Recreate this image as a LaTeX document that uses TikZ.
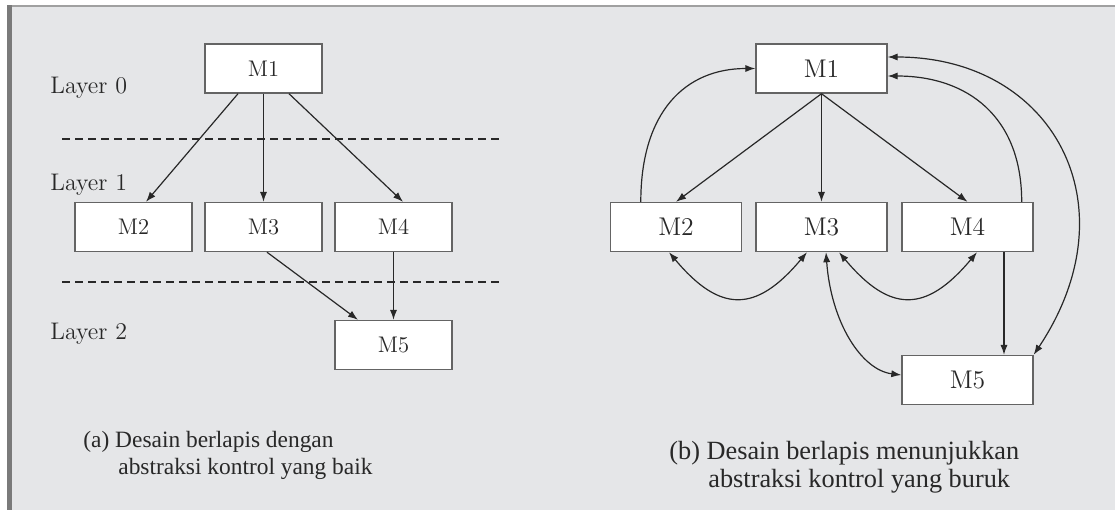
\documentclass[tikz,border=0pt]{standalone}
\usepackage{fontspec}
\newfontfamily\capfont{Liberation Serif}
\usepackage{tikz}
\usetikzlibrary{
	arrows.meta,
	positioning
}
\usepackage{xcolor}
\definecolor{panelbg}{RGB}{229,230,232}
\definecolor{framegray}{RGB}{122,122,122}
\definecolor{framelight}{RGB}{160,160,160}
\definecolor{boxline}{RGB}{100,100,100}
\definecolor{darkline}{RGB}{40,40,40}

\begin{document}
\begin{tikzpicture}[
		x=0.5pt, y=-0.5pt,
		>={Latex[length=5pt,width=3.6pt]},
		modul/.style={
			draw=boxline,
			fill=white,
			line width=0.7pt,
			minimum width=58.5pt,
			minimum height=24.5pt,
			inner sep=0pt,
			text=darkline,
			font=\addfontfeature{FakeBold=0.6}\fontsize{11.3}{13}\selectfont
		},
		modulb/.style={
			modul,
			minimum width=65.5pt,
			font=\addfontfeature{FakeBold=0.6}\fontsize{12.8}{14}\selectfont
		},
		lapisan/.style={
			anchor=base west,
			inner sep=0pt,
			text=darkline,
			font=\addfontfeature{FakeBold=0.6}\fontsize{12}{14}\selectfont
		},
		ket/.style={
			anchor=base west,
			inner sep=0pt,
			text=darkline
		},
		batas/.style={dash pattern=on 4pt off 2.5pt, line width=0.9pt, draw=darkline},
		panah/.style={->, line width=0.6pt, draw=darkline}
		]
		
		\useasboundingbox (0,0) rectangle (1115,510);
		
		% Frame
		\fill[panelbg] (7,5) rectangle (1115,510);
		\fill[framegray] (7,5) rectangle (12,510);
		\fill[framelight] (12,5) rectangle (1115,7);
		
		% (a) Layers
		\draw[batas] (62,139) -- (500,139);
		\draw[batas] (62,282) -- (500,282);
		\node[lapisan] (lap0) at (50,93) {Layer 0};
		\node[lapisan] (lap1) at (50,190) {Layer 1};
		\node[lapisan] (lap2) at (50,339) {Layer 2};
		
		% (a) Modules
		\node[modul] (a1) at (263.5,68.5) {M1};
		\node[modul] (a2) at (133.5,227) {M2};
		\node[modul] (a3) at (263.5,227) {M3};
		\node[modul] (a4) at (393.5,227) {M4};
		\node[modul] (a5) at (393.5,345) {M5};
		
		% (a) Connections
		\draw[panah] ([xshift=-12.75pt]a1.south) -- ([xshift=6.25pt]a2.north);
		\draw[panah] (a1.south) -- (a3.north);
		\draw[panah] ([xshift=12.75pt]a1.south) -- ([xshift=4.75pt]a4.north);
		\draw[panah] ([xshift=1.75pt]a3.south) -- ([xshift=-17.75pt]a5.north);
		\draw[panah] (a4.south) -- (a5.north);
		
		\node[ket, font=\capfont\fontsize{11.7}{13}\selectfont] (capa) at (83,447) {(a) Desain berlapis dengan};
		\node[ket, font=\capfont\fontsize{11.7}{13}\selectfont] (capa2) at (118,474) {abstraksi kontrol yang baik};
		
		% (b) Modules
		\node[modulb] (b1) at (821.5,68.5) {M1};
		\node[modulb] (b2) at (676,227) {M2};
		\node[modulb] (b3) at (821.5,227) {M3};
		\node[modulb] (b4) at (967.5,227) {M4};
		\node[modulb] (b5) at (967.5,380) {M5};
		
		% (b) Calls downwards
		\draw[panah] (b1.south) -- (b2.north);
		\draw[panah] (b1.south) -- (b3.north);
		\draw[panah] (b1.south) -- (b4.north);
		\draw[panah] ([xshift=18.25pt]b4.south) -- ([xshift=18.25pt]b5.north);
		
		% (b) Calls upwards and sideways
		\draw[panah] ([xshift=15.5pt]b2.north west) .. controls +(0,-90) and +(-70,0) .. (b1.west);
		\draw[panah] ([xshift=-6pt]b4.north east) .. controls +(0,-85) and +(80,0) .. ([yshift=-3.75pt]b1.east);
		\draw[panah, <->] ([yshift=5.75pt]b1.east) .. controls +(165,0) and +(100,-150) .. (b5.north east);
		\draw[panah, <->] ([xshift=-3.5pt]b2.south) .. controls +(51,61) and +(-51,61) .. ([xshift=-7.25pt]b3.south);
		\draw[panah, <->] ([xshift=8.75pt]b3.south) .. controls +(51,61) and +(-51,61) .. ([xshift=4.75pt]b4.south);
		\draw[panah, <->] ([xshift=2.25pt]b3.south) .. controls +(5,70) and +(-40,-5) .. ([yshift=2.5pt]b5.west);
		
		\node[ket, font=\capfont\fontsize{13.15}{15}\selectfont] (capb) at (669,459) {(b) Desain berlapis menunjukkan};
		\node[ket, font=\capfont\fontsize{13.15}{15}\selectfont] (capb2) at (708,487) {abstraksi kontrol yang buruk};
		
	\end{tikzpicture}
\end{document}
